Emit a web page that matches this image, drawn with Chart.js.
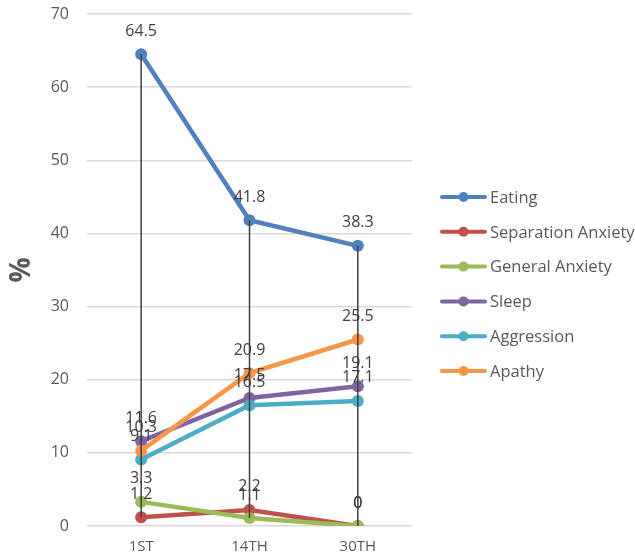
<!DOCTYPE html>
<html>
<head>
<meta charset="utf-8">
<script src="https://cdn.jsdelivr.net/npm/chart.js@4/dist/chart.umd.min.js"></script>
<style>
  html, body { margin: 0; padding: 0; background: #fff; }
  #wrap { width: 635px; height: 557px; position: relative; }
</style>
</head>
<body>
<div id="wrap"><canvas id="c" width="635" height="557"></canvas></div>
<script>
// Survey time points
const categories = ['1ST', '14TH', '30TH'];

// Share of cases (%) per problem area
const eating            = [64.5, 41.8, 38.3];
const separationAnxiety = [1.2, 2.2, 0];
const generalAnxiety    = [3.3, 1.1, 0];
const sleep             = [11.6, 17.5, 19.1];
const aggression        = [9.1, 16.5, 17.1];
const apathy            = [10.3, 20.9, 25.5];

const seriesNames  = ['Eating', 'Separation Anxiety', 'General Anxiety', 'Sleep', 'Aggression', 'Apathy'];
const seriesValues = [eating, separationAnxiety, generalAnxiety, sleep, aggression, apathy];
const seriesColors = ['#4F81BD', '#C0504D', '#9BBB59', '#8064A2', '#4BACC6', '#F79646'];

const yTicks = [0, 10, 20, 30, 40, 50, 60, 70];

const FONT = "'Open Sans', 'DejaVu Sans', sans-serif";

// High-low lines, value labels and the side legend
const overlay = {
  id: 'overlay',
  afterDatasetsDraw(chart) {
    const ctx = chart.ctx;
    const y = chart.scales.y;
    const n = chart.data.labels.length;
    ctx.save();
    // vertical high-low line at every category
    ctx.strokeStyle = '#404040';
    ctx.lineWidth = 1.5;
    for (let i = 0; i < n; i++) {
      const vals = chart.data.datasets.map(d => d.data[i]);
      const x = chart.getDatasetMeta(0).data[i].x;
      ctx.beginPath();
      ctx.moveTo(x, y.getPixelForValue(Math.max(...vals)));
      ctx.lineTo(x, y.getPixelForValue(Math.min(...vals)));
      ctx.stroke();
    }
    // value labels above each point
    ctx.fillStyle = '#404040';
    ctx.font = '16px ' + FONT;
    ctx.textAlign = 'center';
    ctx.textBaseline = 'middle';
    chart.data.datasets.forEach((ds, di) => {
      const meta = chart.getDatasetMeta(di);
      meta.data.forEach((pt, i) => {
        ctx.fillText(String(ds.data[i]), pt.x, pt.y - 23);
      });
    });
    // legend
    const lx0 = 442, lx1 = 485, tx = 490, ly0 = 197, step = 34.8;
    ctx.textAlign = 'left';
    ctx.font = '16.5px ' + FONT;
    chart.data.datasets.forEach((ds, di) => {
      const ly = ly0 + di * step;
      ctx.strokeStyle = ds.borderColor;
      ctx.lineWidth = 4;
      ctx.lineCap = 'round';
      ctx.beginPath();
      ctx.moveTo(lx0, ly);
      ctx.lineTo(lx1, ly);
      ctx.stroke();
      ctx.fillStyle = ds.borderColor;
      ctx.beginPath();
      ctx.arc((lx0 + lx1) / 2, ly, 5, 0, Math.PI * 2);
      ctx.fill();
      ctx.fillStyle = '#595959';
      ctx.fillText(ds.label, tx, ly + 1);
    });
    ctx.restore();
  }
};

new Chart(document.getElementById('c'), {
  type: 'line',
  data: {
    labels: categories,
    datasets: seriesNames.map((name, i) => ({
      label: name,
      data: seriesValues[i],
      borderColor: seriesColors[i],
      backgroundColor: seriesColors[i],
      pointBackgroundColor: seriesColors[i],
      pointBorderColor: seriesColors[i],
      borderWidth: 4.5,
      pointRadius: 6,
      pointBorderWidth: 0,
      tension: 0,
      fill: false,
      order: seriesNames.length - i
    }))
  },
  options: {
    responsive: false,
    animation: false,
    devicePixelRatio: 1,
    layout: { padding: { top: 14, right: 223, bottom: 0, left: 0 } },
    plugins: {
      legend: { display: false },
      tooltip: { enabled: false }
    },
    scales: {
      x: {
        offset: true,
        grid: { display: false, drawTicks: false },
        border: { display: false },
        ticks: { color: '#595959', font: { family: FONT, size: 15 }, padding: 12 },
        afterFit: s => { s.height = 31; s.paddingLeft = 0; s.paddingRight = 0; }
      },
      y: {
        min: 0,
        max: 70,
        afterBuildTicks: s => { s.ticks = yTicks.map(v => ({ value: v })); },
        grid: { color: '#D9D9D9', lineWidth: 1.5, drawTicks: false },
        border: { display: false },
        ticks: { color: '#595959', font: { family: FONT, size: 16 }, padding: 18 },
        title: {
          display: true,
          text: '%',
          color: '#595959',
          font: { family: FONT, size: 28, weight: 'bold' },
          padding: { top: 5, bottom: 0 }
        },
        afterFit: s => { s.width = 87; s.paddingTop = 0; s.paddingBottom = 0; }
      }
    }
  },
  plugins: [overlay]
});
</script>
</body>
</html>
